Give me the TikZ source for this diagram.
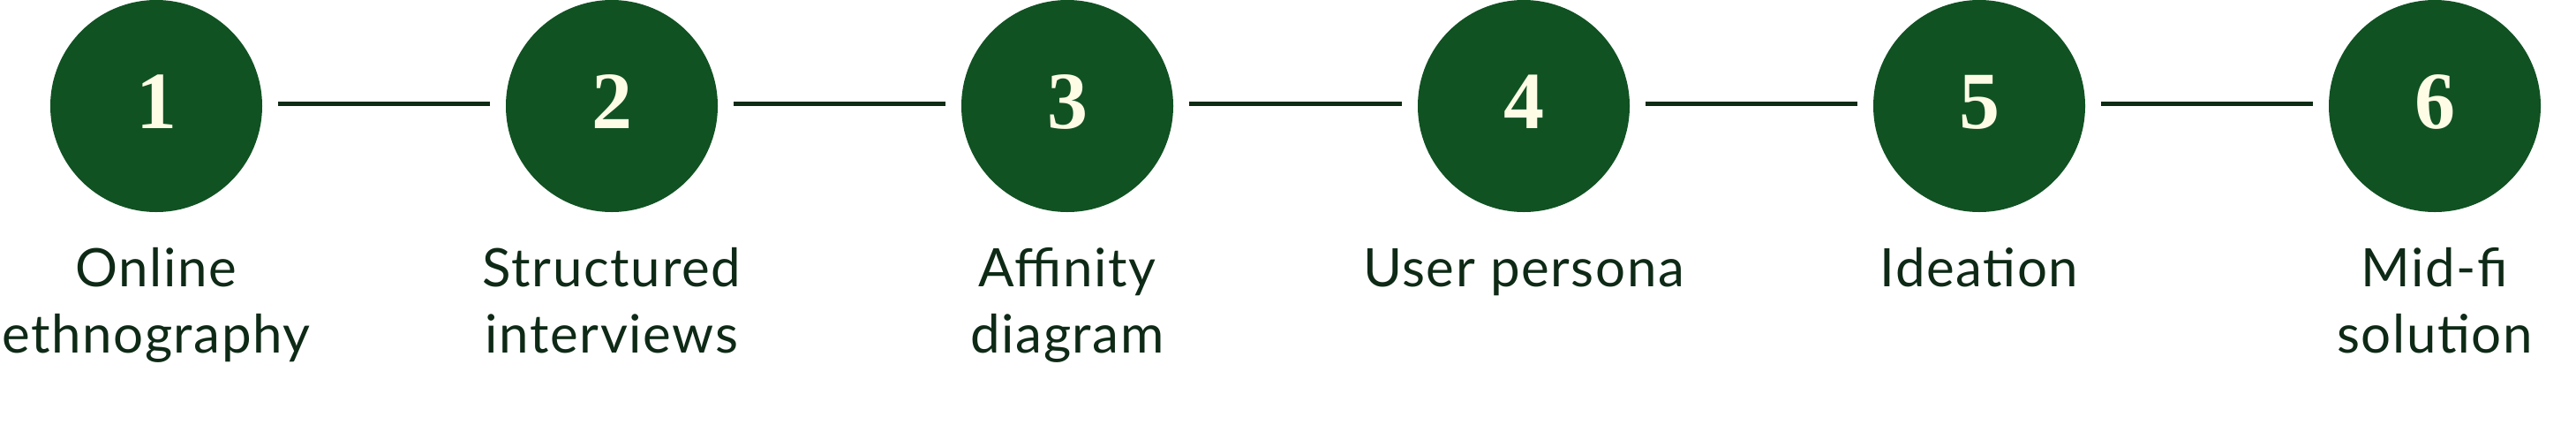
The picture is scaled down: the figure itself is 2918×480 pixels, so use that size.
\documentclass[tikz,border=0pt]{standalone}
\usepackage{fontspec}
\setmainfont{Lato}[LetterSpace=2.7]
\newfontfamily\numfont{Liberation Serif}
\definecolor{circgreen}{HTML}{115223}
\definecolor{cream}{HTML}{FFFCE6}
\definecolor{txtgreen}{HTML}{0E2A16}
\definecolor{linegreen}{HTML}{0E2C14}
\begin{document}
\begin{tikzpicture}[x=1pt,y=-1pt,
  stepcircle/.style={circle, fill=circgreen, minimum size=240pt, inner sep=0pt,
    text=cream, font=\numfont\bfseries\fontsize{92}{92}\selectfont},
  steplabel/.style={anchor=base, align=center, text=txtgreen,
    font=\fontsize{60}{75}\selectfont, inner sep=0pt},
  conn/.style={draw=linegreen, line width=5pt, shorten <=18pt, shorten >=18pt}]
\fill[white] (0,0) rectangle (2918,480);
\useasboundingbox (0,0) rectangle (2918,480);
\foreach \i/\x in {1/177,2/693,3/1209,4/1726,5/2242,6/2758}{
  \node[stepcircle] (c\i) at (\x,120) {\raisebox{9pt}{\i}};
}
\node[steplabel] (l1) at (177,399) {Online\\ethnography};
\node[steplabel] (l2) at (693,399) {Structured\\interviews};
\node[steplabel] (l3) at (1209,399) {Affinity\\diagram};
\node[steplabel] (l4) at (1726,324) {User persona};
\node[steplabel] (l5) at (2242,324) {Ideation};
\node[steplabel] (l6) at (2758,399) {Mid-fi\\solution};
\foreach \a/\b in {1/2,2/3,3/4,4/5,5/6}{
  \draw[conn] ([yshift=3pt]c\a.east) -- ([yshift=3pt]c\b.west);
}
\end{tikzpicture}
\end{document}
